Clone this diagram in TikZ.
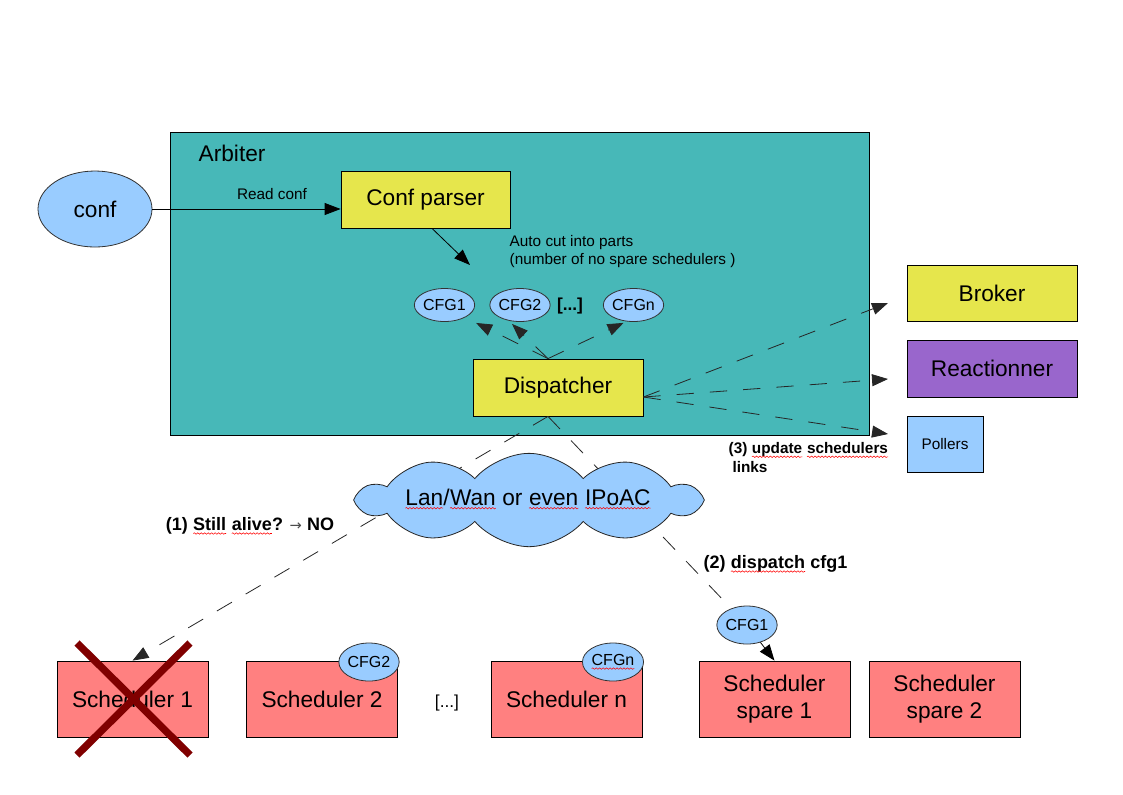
\documentclass[tikz,border=0pt]{standalone}
\usepackage{fontspec}
\setmainfont{Liberation Sans}
\newfontfamily\djv{DejaVu Sans}
\usetikzlibrary{arrows.meta,shapes.geometric,shapes.symbols,calc,decorations.pathmorphing}
\definecolor{arbteal}{HTML}{47B8B8}
\definecolor{boxyellow}{HTML}{E6E64C}
\definecolor{cfgblue}{HTML}{99CCFF}
\definecolor{reacpurple}{HTML}{9966CC}
\definecolor{schedred}{HTML}{FF8080}
\definecolor{crossred}{HTML}{800000}
\newcommand\spellu[1]{\tikz[baseline=(sw.base)]{\node[rectangle,inner sep=0pt,outer sep=0pt,minimum width=0pt,minimum height=0pt,draw=none,fill=none](sw){#1};\draw[red,line width=0.4pt,solid,decorate,decoration={snake,amplitude=0.55pt,segment length=2.6pt}]([yshift=-2.2pt]sw.base west) -- ([yshift=-2.2pt]sw.base east);}}
\tikzset{
  big/.style={font=\fontsize{17}{20}\selectfont},
  small/.style={font=\fontsize{11.5}{13.5}\selectfont},
  boxnode/.style={draw=black, line width=0.6pt, rectangle, inner sep=0pt, big},
  ell/.style={ellipse, draw=black!80, line width=0.6pt, fill=cfgblue, inner sep=0pt},
  cfgell/.style={ell, minimum width=42.75pt, minimum height=24.75pt, font=\fontsize{12}{14}\selectfont},
  smallcfg/.style={ell, minimum width=42pt, minimum height=28.5pt, font=\fontsize{12}{14}\selectfont},
  sched/.style={boxnode, fill=schedred, minimum width=113.25pt, minimum height=57pt, align=center, font=\fontsize{17}{20}\selectfont},
  dashline/.style={draw=black!85, line width=0.6pt, dash pattern=on 13pt off 12pt},
  tip/.style={-{Triangle[length=12pt,width=9pt]}},
  plain/.style={draw=black, line width=0.6pt},
  lbl/.style={font=\fontsize{11.5}{14}\selectfont\bfseries},
  biglbl/.style={font=\fontsize{13.5}{16}\selectfont\bfseries},
}
\begin{document}
\begin{tikzpicture}[x=0.75pt,y=-0.75pt]
\useasboundingbox (0,0) rectangle (1123,794);
\fill[white] (0,0) rectangle (1123,794);

% Arbiter
\node[boxnode, fill=arbteal, minimum width=524.25pt, minimum height=227.25pt] (arb) at (519.5,283.5) {};
\node[anchor=west, big] (arbt) at (194,153) {Arbiter};

% conf and parser
\node[ell, minimum width=85.5pt, minimum height=57pt, big] (conf) at (95,209) {conf};
\node[boxnode, fill=boxyellow, minimum width=126.75pt, minimum height=42.75pt] (parser) at (425.5,199.5) {Conf parser};
\node[small] (readl) at (272,194) {Read conf};
\draw[plain, tip] (conf.east) -- (conf.east -| parser.west);
\coordinate (cutend) at (470,265);
\draw[plain, tip] ($(parser.south)+(6.5,0)$) -- (cutend);
\node[small, anchor=north west, align=left] (autocut) at (505,231) {Auto cut into parts\\(number of no spare schedulers )};

% CFGs
\node[cfgell] (cfg1) at (444.5,305) {CFG1};
\node[cfgell] (cfg2) at (520,305) {CFG2};
\node[cfgell] (cfgn) at (633.5,305) {CFGn};
\node[font=\fontsize{13}{15}\selectfont\bfseries] (dots1) at (570,306) {[...]};

% Dispatcher
\node[boxnode, fill=boxyellow, minimum width=127.5pt, minimum height=42.75pt] (disp) at (558,387.5) {Dispatcher};
\coordinate (dtop) at ($(disp.north)+(-10,0)$);
\coordinate (dbot) at ($(disp.south)+(-10,0)$);
\coordinate (dright) at ($(disp.east)+(0,9.5)$);

\draw[dashline, tip] (dtop) -- ($(cfg1.south east)+(10,6)$);
\draw[dashline, tip] (dtop) -- ($(cfg2.south)+(-8,2)$);
\draw[dashline, tip] (dtop) -- ($(cfgn.south)+(-10,1)$);

% right side
\node[boxnode, fill=boxyellow, minimum width=127.5pt, minimum height=42pt] (broker) at (992,293) {Broker};
\node[boxnode, fill=reacpurple, minimum width=127.5pt, minimum height=42.75pt] (react) at (992,368.5) {Reactionner};
\node[boxnode, fill=cfgblue, minimum width=57pt, minimum height=42pt, small] (poll) at (945,444) {Pollers};
\coordinate (tipB) at (888,303);
\coordinate (tipR) at (888,379);
\coordinate (tipP) at (888,434);
\draw[dashline, tip] (dright) -- (tipB);
\draw[dashline, tip] (dright) -- (tipR);
\draw[dashline, tip] (dright) -- (tipP);
\node[lbl, anchor=north west, align=left] (upd) at (724,438) {(3) \spellu{update} \spellu{schedulers}\\\hspace{0.25em}links};

% bottom row
\node[sched] (s1) at (132.5,699) {Scheduler 1};
\node[sched] (s2) at (322,699) {Scheduler 2};
\node[sched] (sn) at (566.5,699) {Scheduler n};
\node[sched] (sp1) at (774.5,699) {Scheduler\\spare 1};
\node[sched] (sp2) at (944.5,699) {Scheduler\\spare 2};
\node[font=\fontsize{13}{15}\selectfont] (dots2) at (447,703) {[...]};
\node[smallcfg] (cfgb2) at (369,662) {CFG2};
\node[smallcfg] (cfgbn) at (613,662) {\spellu{CFGn}};
\node[smallcfg] (cfgs) at (747,625) {CFG1};

% network lines (behind cloud)
\draw[dashline, tip] (dbot) -- (s1.north);
\draw[dashline] (dbot) -- (cfgs);
\draw[plain, tip] (cfgs) -- (sp1.north);

% cloud
\node[cloud, draw=black!85, line width=0.6pt, fill=cfgblue, cloud puffs=10, cloud puff arc=100, aspect=3.6, minimum width=255pt, minimum height=70pt, inner sep=0pt] (net) at (529,500) {};
\node[big] (nettext) at (528,499) {\spellu{Lan}/\spellu{Wan} or \spellu{even} \spellu{IPoAC}};

% labels
\node[biglbl] (alive) at (250,526) {(1) \spellu{Still} \spellu{alive}? {\mdseries\color{black!70}\djv\fontsize{11}{13}\selectfont →} NO};
\node[biglbl, anchor=west] (disptxt) at (699,564) {(2) \spellu{dispatch} cfg1};

% red cross
\draw[crossred, line width=5.5pt] (77,643) -- (190,755);
\draw[crossred, line width=5.5pt] (190,643) -- (77,755);
\end{tikzpicture}
\end{document}
